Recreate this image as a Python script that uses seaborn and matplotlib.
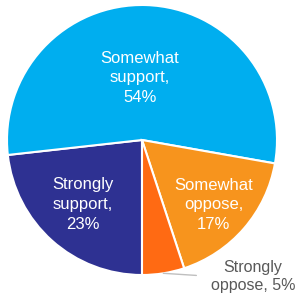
import numpy as np
import matplotlib.pyplot as plt
import seaborn as sns

sns.set_style("white")
plt.rcParams["font.family"] = ["Liberation Sans", "DejaVu Sans"]

labels = ["Strongly support", "Somewhat support", "Somewhat oppose", "Strongly oppose"]
values = [23, 54, 17, 5]
colors = ["#2E3192", "#00AEEF", "#F7941D", "#FF6A13"]

fig = plt.figure(figsize=(2.96, 3.01), dpi=100)
ax = fig.add_axes([7 / 296, 26 / 301, 270 / 296, 270 / 301])

wedges, _ = ax.pie(values, colors=colors, startangle=-90, counterclock=False,
                   wedgeprops=dict(edgecolor="white", linewidth=1.5))
ax.set_xlim(-1, 1)
ax.set_ylim(-1, 1)
ax.set_aspect("equal")
ax.axis("off")

inner = {0: (-0.44, -0.48), 1: (-0.015, 0.46), 2: (0.53, -0.48)}
for i, (x, y) in inner.items():
    ax.text(x, y, f"{labels[i].replace(' ', chr(10))},\n{values[i]}%",
            ha="center", va="center", color="white", fontsize=12, linespacing=1.4)

# outside label for the small slice with a leader line
w = wedges[3]
ang = np.deg2rad((w.theta1 + w.theta2) / 2)
ax.annotate(f"Strongly\n{labels[3].split()[1]}, {values[3]}%",
            xy=(np.cos(ang), np.sin(ang)), xytext=(1.135, -1.01),
            ha="right", va="center", multialignment="center",
            color="#595959", fontsize=11.5, linespacing=1.3,
            arrowprops=dict(arrowstyle="-", color="#BFBFBF", lw=1,
                            relpos=(0, 0.5), shrinkA=8, shrinkB=0),
            annotation_clip=False)

plt.savefig("out.png", dpi=100)
